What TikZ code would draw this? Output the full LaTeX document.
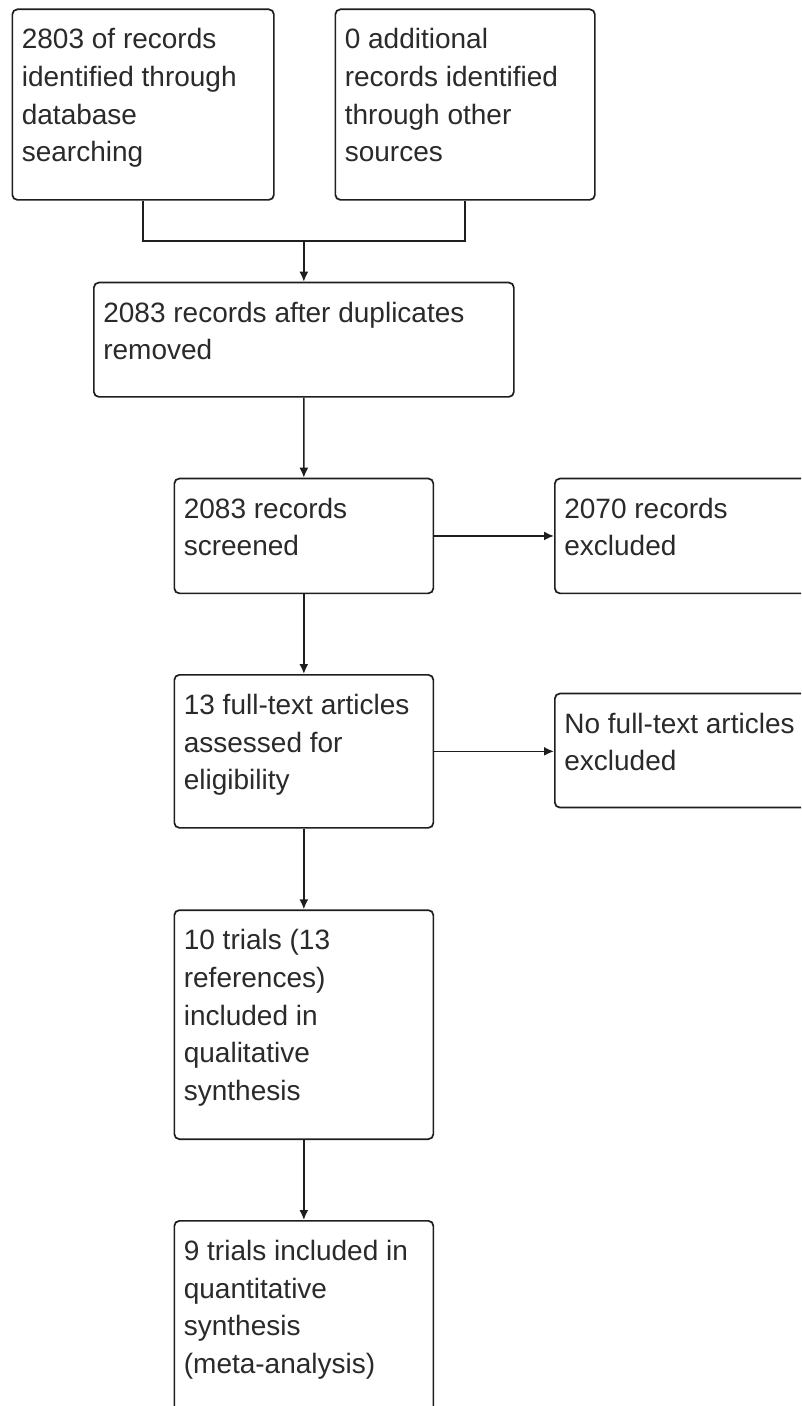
\documentclass[tikz,border=0pt]{standalone}
\usepackage{fontspec}
\setmainfont{Liberation Sans}
\usetikzlibrary{arrows.meta,calc}
\definecolor{linec}{HTML}{1E1E1E}
\definecolor{textc}{HTML}{2A2A2A}
\newcommand\bxtext[3]{\parbox[c][#2bp][t]{#1bp}{\rule{0pt}{39.5bp}#3}}
\tikzset{
  box/.style={draw=linec, line width=1.7bp, rounded corners=5bp, inner xsep=9.5bp,
    inner ysep=0pt, anchor=north west, text=textc,
    font=\fontsize{28bp}{37.7bp}\selectfont},
  conn/.style={draw=linec, line width=1.7bp},
  arr/.style={conn, -{Latex[length=10bp,width=9bp]}}
}
\begin{document}
\begin{tikzpicture}[x=1bp,y=-1bp]
\path[use as bounding box, clip] (0,0) rectangle (801,1406);
\fill[white] (0,0) rectangle (801,1406);
\node[box] (b1) at (11.5,8.5) {\bxtext{242.5}{190.5}{\mbox{2803 of records}\\\mbox{identified through}\\\mbox{database}\\\mbox{searching}}};
\node[box] (b2) at (334.5,8.5) {\bxtext{240.5}{190.5}{\mbox{0 additional}\\\mbox{records identified}\\\mbox{through other}\\\mbox{sources}}};
\node[box] (b3) at (93,281.7) {\bxtext{401}{114.3}{\mbox{2083 records after duplicates}\\\mbox{removed}}};
\node[box] (b4) at (173.5,477.7) {\bxtext{240}{114.8}{\mbox{2083 records}\\\mbox{screened}}};
\node[box] (b5) at (554,477.7) {\bxtext{243}{114.8}{\mbox{2070 records}\\\mbox{excluded}}};
\node[box] (b6) at (173.5,674) {\bxtext{240}{153}{\mbox{13 full-text articles}\\\mbox{assessed for}\\\mbox{eligibility}}};
\node[box] (b7) at (554,692.7) {\bxtext{243}{114}{\mbox{No full-text articles}\\\mbox{excluded}}};
\node[box] (b8) at (173.5,909.3) {\bxtext{240}{229}{\mbox{10 trials (13}\\\mbox{references)}\\\mbox{included in}\\\mbox{qualitative}\\\mbox{synthesis}}};
\node[box] (b9) at (173.5,1220) {\bxtext{240}{240}{\mbox{9 trials included in}\\\mbox{quantitative}\\\mbox{synthesis}\\\mbox{(meta-analysis)}}};
\coordinate (j) at ($(b3.north)+(0,-41)$);
\draw[conn] (b1.south) |- (j);
\draw[conn] (b2.south) |- (j);
\draw[arr] (j) -- (b3.north);
\draw[arr] (b3.south) -- (b4.north);
\draw[arr] (b4.south) -- (b6.north);
\draw[arr] (b6.south) -- (b8.north);
\draw[arr] (b8.south) -- (b9.north);
\draw[arr] (b4.east) -- (b4.east -| b5.west);
\draw[arr] (b6.east) -- (b6.east -| b7.west);
\end{tikzpicture}
\end{document}
